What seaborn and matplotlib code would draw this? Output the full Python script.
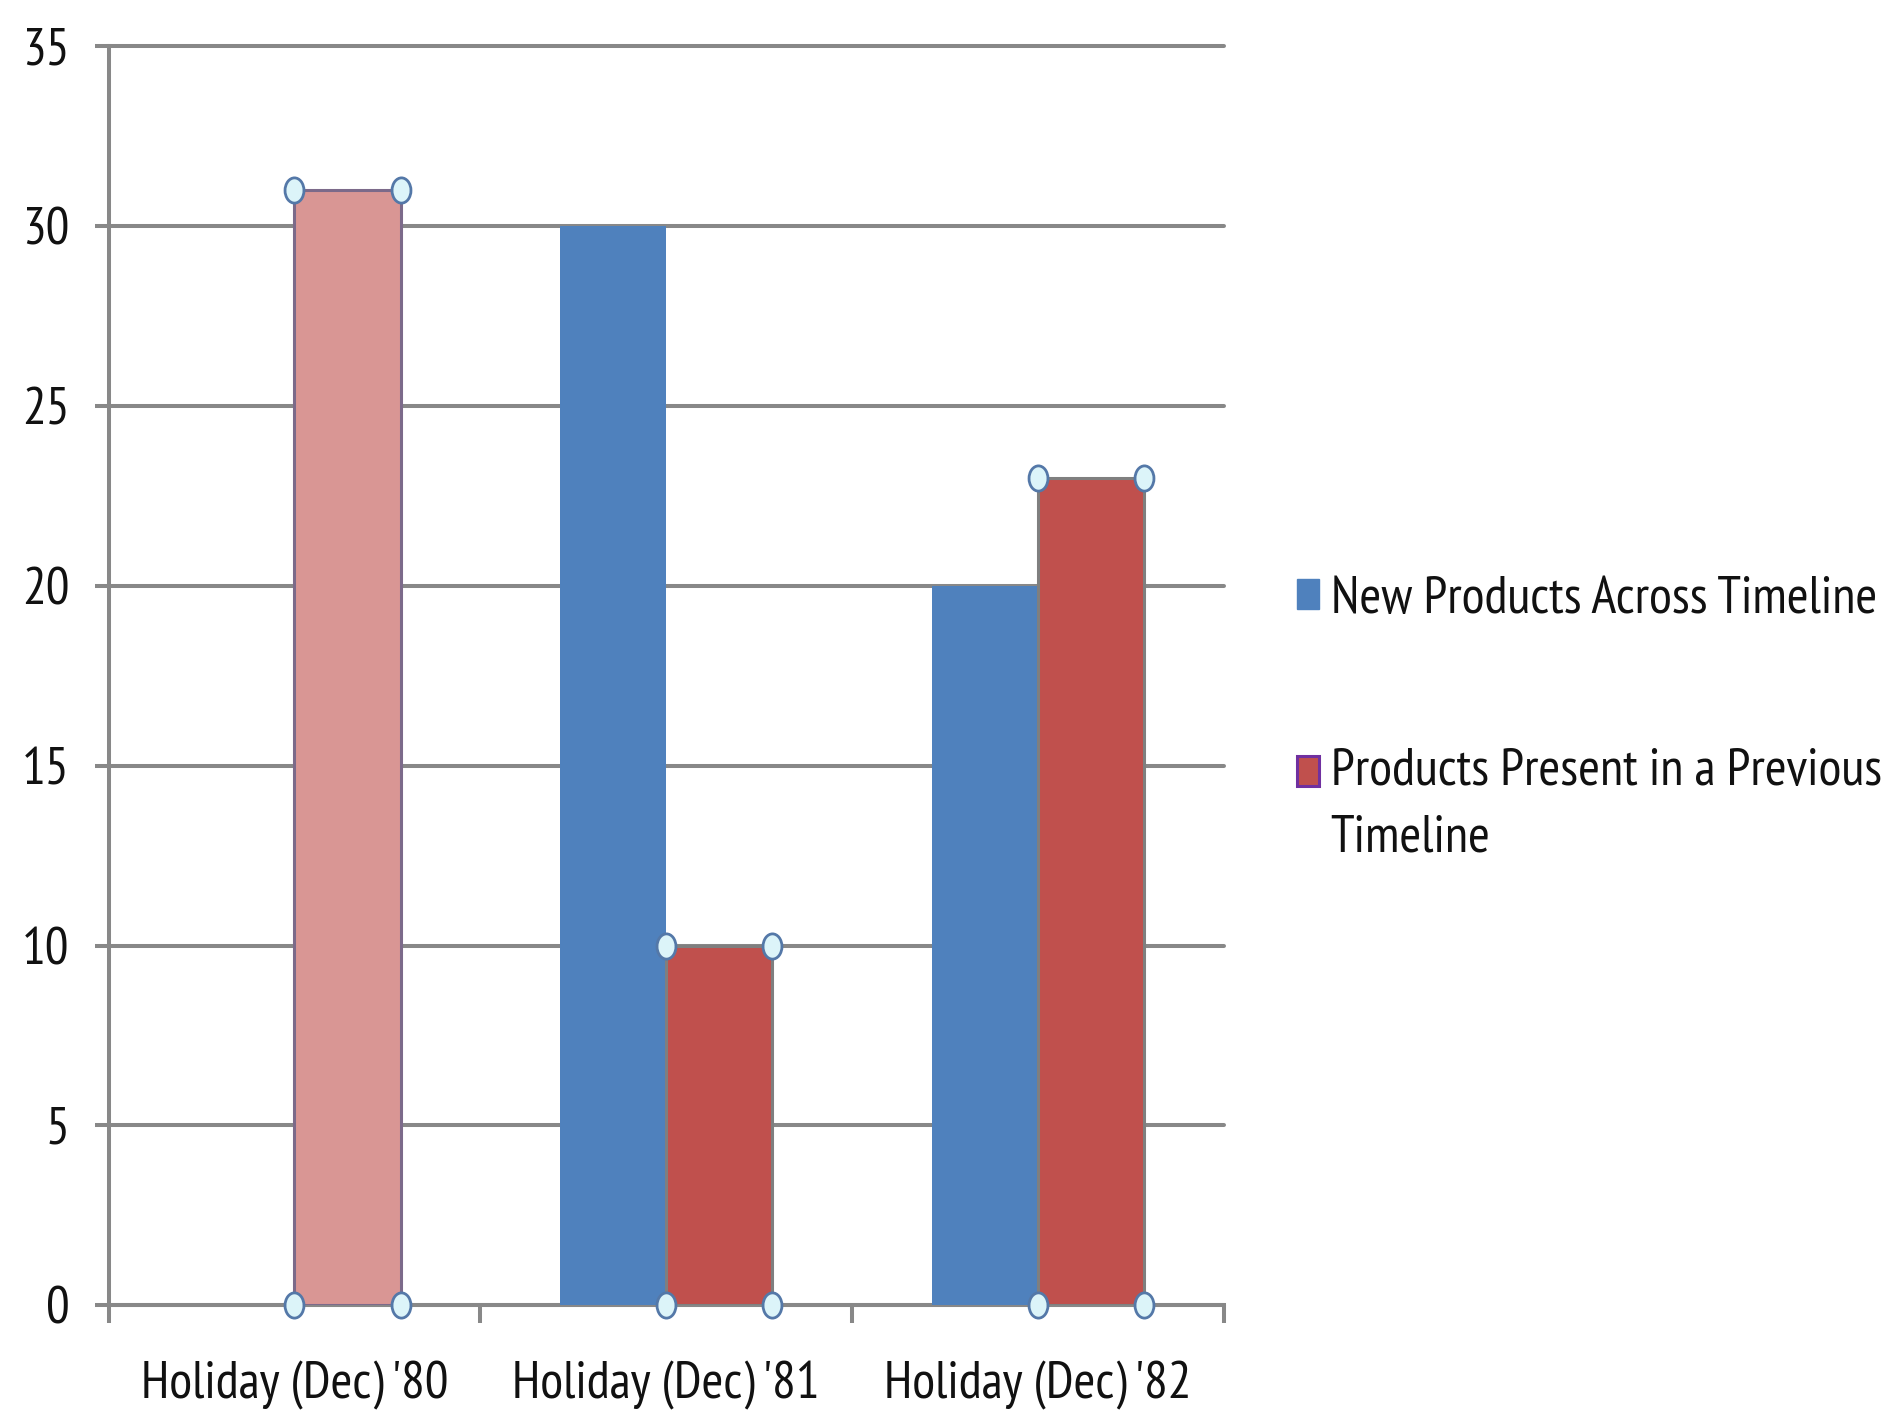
import numpy as np
import pandas as pd
import matplotlib
matplotlib.use("Agg")
import matplotlib.pyplot as plt
import seaborn as sns
from matplotlib.path import Path
from matplotlib.transforms import Affine2D
from matplotlib.patches import Patch

# ---- data ----
categories = ["Holiday (Dec) '80", "Holiday (Dec) '81", "Holiday (Dec) '82"]
new_products = [0, 30, 20]
previous_products = [31, 10, 23]
series_names = ["New Products Across Timeline", "Products Present in a Previous\nTimeline"]
y_ticks = [0, 5, 10, 15, 20, 25, 30, 35]

BLUE = "#4F81BD"
RED = "#C0504D"
PINK = "#D99694"
GRID = "#888888"
FS = 38

sns.set_theme(style="white")
plt.rcParams["font.family"] = ["PT Sans Narrow", "Roboto Condensed", "DejaVu Sans"]

df = pd.DataFrame({
    "category": categories * 2,
    "value": new_products + previous_products,
    "series": [series_names[0]] * 3 + [series_names[1]] * 3,
})

fig = plt.figure(figsize=(18.92, 14.11), dpi=100)
ax = fig.add_axes([0.0574, 0.0748, 0.5893, 0.8928])

sns.barplot(data=df, x="category", y="value", hue="series", order=categories,
            hue_order=series_names, palette=[BLUE, RED], width=0.571,
            saturation=1, ax=ax, legend=False, zorder=3)

for bar in ax.containers[0]:
    bar.set_linewidth(0)

# style bars of second series
red_bars = ax.containers[1]
for i, bar in enumerate(red_bars):
    bar.set_edgecolor("#7F7F7F")
    bar.set_linewidth(2.2)
    if i == 0:
        bar.set_facecolor(PINK)
        bar.set_edgecolor("#7C6A8A")

# selection handles at the corners of the second series' bars
ell = Path.unit_circle().transformed(Affine2D().scale(0.75, 1.0))
hx, hy = [], []
for bar in red_bars:
    x0 = bar.get_x(); w = bar.get_width(); h = bar.get_height()
    for xx in (x0, x0 + w):
        for yy in (0, h):
            hx.append(xx); hy.append(yy)
ax.scatter(hx, hy, marker=ell, s=330, facecolor="#DCF4F9", edgecolor="#5478A8",
           linewidth=2.0, zorder=6, clip_on=False)

ax.set_ylim(0, 35)
ax.set_xlim(-0.5, 2.5)
ax.set_yticks(y_ticks)
ax.set_yticklabels([str(t) for t in y_ticks])
ax.set_xticks([0, 1, 2])
ax.set_xticklabels(categories)
ax.set_xticks([-0.5, 0.5, 1.5, 2.5], minor=True)
ax.set_xlabel("")
ax.set_ylabel("")

ax.yaxis.grid(True, color=GRID, linewidth=2.9, zorder=1)
ax.xaxis.grid(False)
ax.set_axisbelow(True)
for gl in ax.get_ygridlines():
    gl.set_clip_on(False)

for s in ("top", "right"):
    ax.spines[s].set_visible(False)
for s in ("left", "bottom"):
    ax.spines[s].set_color(GRID)
    ax.spines[s].set_linewidth(2.9)
    ax.spines[s].set_zorder(2)

ax.tick_params(axis="y", which="major", length=10, width=2.9, color=GRID,
               pad=18, labelsize=FS, labelcolor="#111111", left=True)
ax.tick_params(axis="x", which="major", length=0, pad=40, labelsize=FS,
               labelcolor="#111111")
ax.tick_params(axis="x", which="minor", length=13, width=2.9, color=GRID,
               bottom=True, direction="out")

handles = [Patch(facecolor=BLUE, edgecolor=BLUE),
           Patch(facecolor=RED, edgecolor="#7030A0", linewidth=2.2)]
LINESP = 1.5
leg = fig.legend(handles, series_names, loc="center left",
                 bbox_to_anchor=(0.6855, 0.4905), frameon=False, fontsize=FS,
                 handlelength=0.42, handleheight=0.5, handletextpad=0.22,
                 labelspacing=2.35, borderpad=0, borderaxespad=0)
for t in leg.get_texts():
    t.set_linespacing(LINESP)
    t.set_color("#111111")
# align the second handle with the first line of its two-line label
h2 = leg.legend_handles[1]
h2.set_y(h2.get_y() + 0.5 * LINESP * 0.855 * FS)

fig.savefig("out.png", dpi=100)
